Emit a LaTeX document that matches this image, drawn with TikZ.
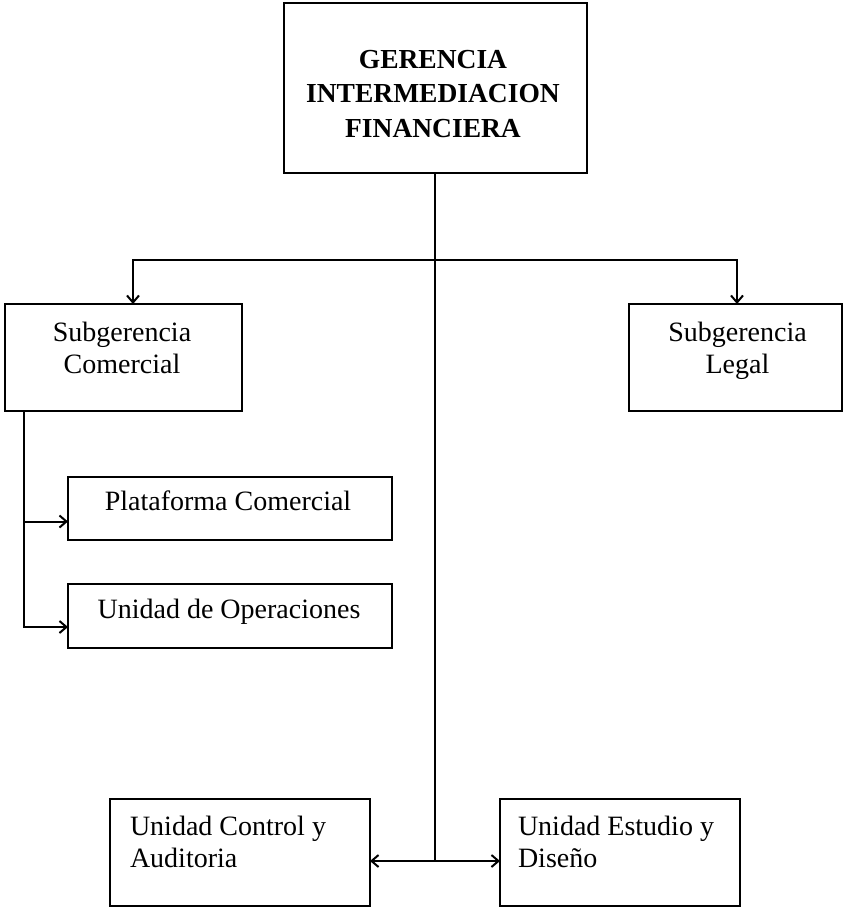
\documentclass[tikz,border=0pt]{standalone}
\usepackage{fontspec}
\setmainfont{Liberation Serif}
\usetikzlibrary{arrows.meta}
\begin{document}
\begin{tikzpicture}[x=1pt,y=-1pt,
  box/.style={draw, line width=2pt, inner sep=0pt, outer sep=0pt},
  txt/.style={inner sep=0pt, outer sep=0pt, anchor=base, align=center,
              font=\fontsize{28}{32}\selectfont},
  txtl/.style={txt, align=left, anchor=base west},
  head/.style={txt, font=\fontsize{27.5}{34.5}\selectfont\bfseries},
  link/.style={line width=2pt},
  arr/.style={link, -{Straight Barb[length=7pt,width=12pt,line width=2pt]}}]
\useasboundingbox (0,0) rectangle (845,908);

% boxes
\node[box, minimum width=303, minimum height=170] (ger) at (435,88) {};
\node[box, minimum width=237, minimum height=107] (com) at (123.5,357.5) {};
\node[box, minimum width=213, minimum height=107] (leg) at (735.5,357.5) {};
\node[box, minimum width=324, minimum height=63] (pla) at (230,508.5) {};
\node[box, minimum width=324, minimum height=64] (ope) at (230,616) {};
\node[box, minimum width=260, minimum height=107] (ctl) at (240,852.5) {};
\node[box, minimum width=240, minimum height=107] (est) at (620,852.5) {};

% labels (base anchor = baseline of the last line)
\node[head] (gerT) at (433,137) {GERENCIA\\INTERMEDIACION\\FINANCIERA};
\node[txt] (comT) at (122,373) {Subgerencia\\Comercial};
\node[txt] (legT) at (737.5,373) {Subgerencia\\Legal};
\node[txt] (plaT) at (228,510) {Plataforma Comercial};
\node[txt] (opeT) at (229,618) {Unidad de Operaciones};
\node[txtl] (ctlT) at (130,867) {Unidad Control y\\Auditoria};
\node[txtl] (estT) at (518,867) {Unidad Estudio y\\Diseño};

% connectors
\coordinate (bar) at (435,260);
\coordinate (foot) at (435,861);
\draw[link] (ger.south) -- (foot);
\draw[arr] (bar) -| ([xshift=9.5]com.north);
\draw[arr] (bar) -| ([xshift=1.5]leg.north);
\draw[arr] (foot) -- (ctl.east |- foot);
\draw[arr] (foot) -- (est.west |- foot);
\draw[arr] ([xshift=19]com.south west) |- ([yshift=-13]pla.west);
\draw[arr] ([xshift=19]com.south west) |- ([yshift=-11]ope.west);
\end{tikzpicture}
\end{document}
